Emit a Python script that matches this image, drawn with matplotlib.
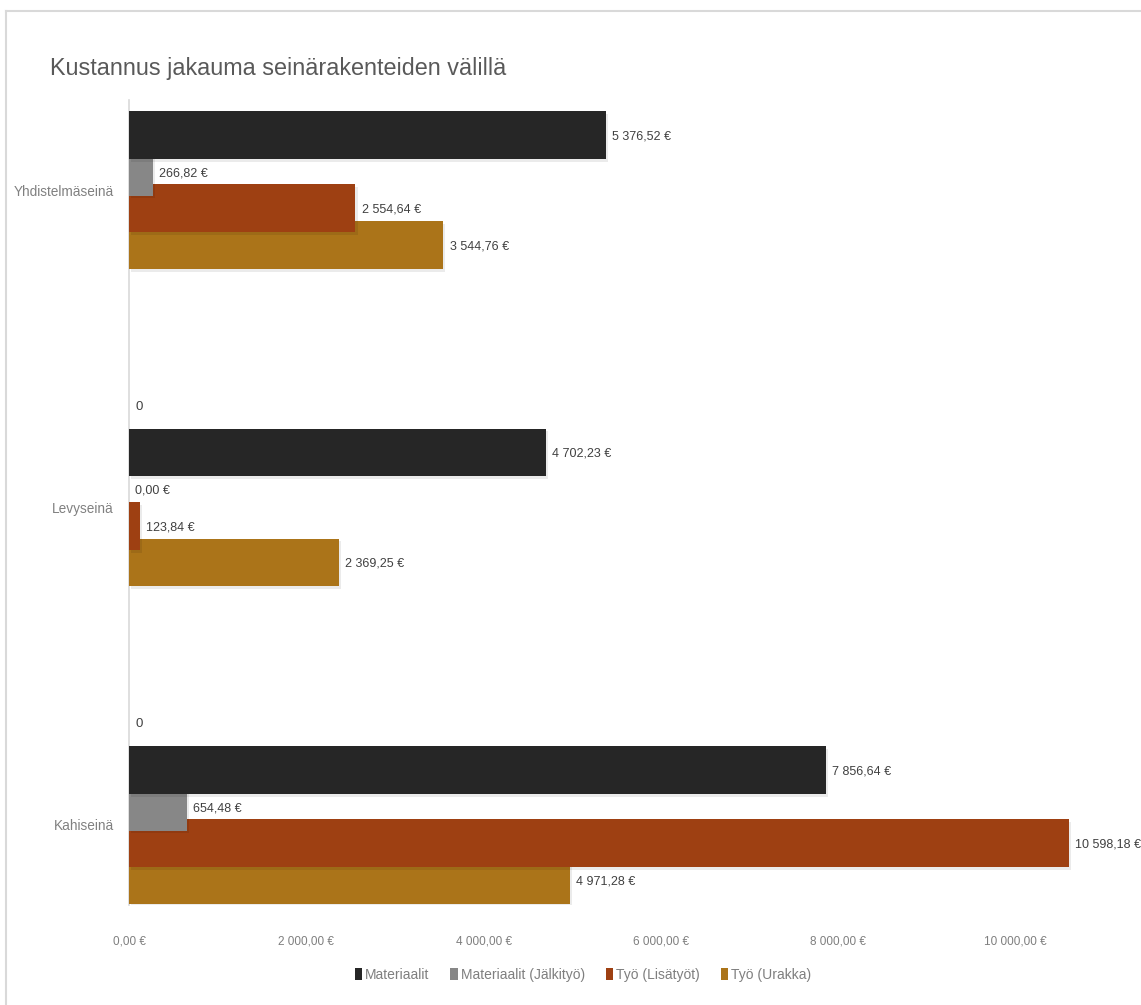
import matplotlib
matplotlib.use("Agg")
from matplotlib import pyplot as plt
from matplotlib import patheffects as pe
from matplotlib.lines import Line2D
from matplotlib.patches import Patch
from matplotlib.ticker import FuncFormatter, MultipleLocator

plt.rcParams['font.family'] = ['Liberation Sans', 'DejaVu Sans']

# data
kategoriat = ["Yhdistelmäseinä", "Levyseinä", "Kahiseinä"]
sarjat = ["Materiaalit", "Materiaalit (Jälkityö)", "Työ (Lisätyöt)", "Työ (Urakka)"]
materiaalit = [5376.52, 4702.23, 7856.64]
materiaalit_jalkityo = [266.82, 0.00, 654.48]
tyo_lisatyot = [2554.64, 123.84, 10598.18]
tyo_urakka = [3544.76, 2369.25, 4971.28]
tyhja = [None, 0, 0]  # piilotettu sarja, näkyy vain "0"-otsikkona

arvot = [materiaalit, materiaalit_jalkityo, tyo_lisatyot, tyo_urakka]
varit = ["#262626", "#878787", "#9e4012", "#ab7419"]

def euro(v, pos=None):
    s = f"{v:,.2f}".replace(",", " ").replace(".", ",")
    return s + " €"

fig = plt.figure(figsize=(11.41, 10.05), dpi=100)
ax = fig.add_axes([129/1141, 1 - 905/1005, 975.2/1141, 805/1005])

# reunus
fig.add_artist(Line2D([6/1141, 6/1141], [0, 1 - 11/1005], color="#d9d9d9", lw=1.5))
fig.add_artist(Line2D([6/1141, 1], [1 - 11/1005, 1 - 11/1005], color="#d9d9d9", lw=1.5))

siirrot = [-0.1732, -0.0577, 0.0577, 0.1732]
korkeus = 0.151
varjo = [pe.SimplePatchShadow(offset=(1.5, -2), shadow_rgbFace="black", alpha=0.08), pe.Normal()]

for i, (nimi, vals, vari) in enumerate(zip(sarjat, arvot, varit)):
    ypos = [c + siirrot[i] for c in range(len(kategoriat))]
    ax.barh(ypos, vals, height=korkeus, color=vari, zorder=6 - i, path_effects=varjo)
    for y, v in zip(ypos, vals):
        ax.annotate(euro(v), (v, y), xytext=(4.5, -1), textcoords="offset points",
                    va="center", ha="left", fontsize=9, color="#404040", zorder=10)

for c, v in enumerate(tyhja):
    if v is None:
        continue
    ax.annotate(f"{v}", (v, c - 0.318), xytext=(4.5, 0), textcoords="offset points",
                va="center", ha="left", fontsize=9.5, color="#404040")

ax.set_xlim(0, 11000)
ax.set_ylim(2.252, -0.2835)
ax.xaxis.set_major_locator(MultipleLocator(2000))
ax.xaxis.set_major_formatter(FuncFormatter(euro))
ax.set_yticks(range(len(kategoriat)))
ax.set_yticklabels(kategoriat)
ax.tick_params(axis="x", length=0, pad=22, labelsize=8.5, labelcolor="#7f7f7f")
ax.tick_params(axis="y", length=0, pad=11, labelsize=9.8, labelcolor="#808080")
for s in ["top", "right", "bottom"]:
    ax.spines[s].set_visible(False)
ax.spines["left"].set_color("#d9d9d9")
ax.spines["left"].set_linewidth(1.2)

fig.text(50/1141, 1 - 68/1005, "Kustannus jakauma seinärakenteiden välillä",
         fontsize=16.8, color="#595959", va="center", ha="left")

kahvat = [Patch(facecolor=v, edgecolor="none") for v in varit]
fig.legend(kahvat, sarjat, loc="center", bbox_to_anchor=(583/1141, 1 - 975/1005), ncol=4,
           frameon=False, fontsize=10, labelcolor="#7f7f7f", handlelength=0.55,
           handleheight=0.9, handletextpad=0.2, columnspacing=1.5)

fig.savefig("out.png", dpi=100)
